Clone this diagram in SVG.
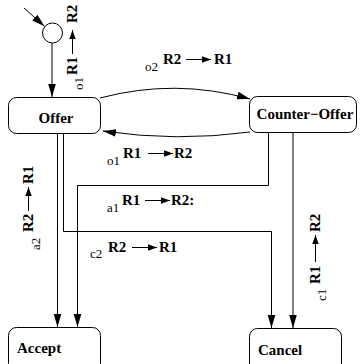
<svg xmlns="http://www.w3.org/2000/svg" width="360" height="364" viewBox="0 0 360 364">
<defs>
<style>
.box{fill:#fff;stroke:#000;stroke-width:1}
.lbl{font-family:'Liberation Serif','Times New Roman',Times,'DejaVu Serif',serif;font-weight:bold;font-size:15px;fill:#000}
.r{font-family:'Liberation Serif','Times New Roman',Times,'DejaVu Serif',serif;font-weight:bold;font-size:15px;fill:#000}
.s{font-family:'Liberation Serif','Times New Roman',Times,'DejaVu Serif',serif;font-size:13px;fill:#000}
.c{fill:none;stroke:#000;stroke-width:1}
.la{fill:none;stroke:#000;stroke-width:1;marker-end:url(#sm)}
</style>
<marker id="ah" markerUnits="userSpaceOnUse" markerWidth="14" markerHeight="10" viewBox="0 0 14 10" refX="13" refY="5" orient="auto">
<path d="M0,1.2 L13,5 L0,8.8 Z" fill="#000"/>
</marker>
<marker id="sm" markerUnits="userSpaceOnUse" markerWidth="10" markerHeight="8" viewBox="0 0 10 8" refX="9" refY="4" orient="auto">
<path d="M0,0.8 L9,4 L0,7.2 Z" fill="#000"/>
</marker>
</defs>

<g id="connectors">
<line class="c" x1="24" y1="8" x2="44.5" y2="26.3" marker-end="url(#ah)"/>
<line class="c" x1="52" y1="43" x2="52" y2="97" marker-end="url(#ah)"/>
<path class="c" d="M100,98 Q175,78 250,99" marker-end="url(#ah)"/>
<path class="c" d="M250,132 Q176,142 103,131" marker-end="url(#ah)"/>
<line class="c" x1="57.5" y1="133" x2="57.5" y2="327" marker-end="url(#ah)"/>
<polyline class="c" points="63.5,133 63.5,231.5 271.5,231.5 271.5,328" marker-end="url(#ah)"/>
<polyline class="c" points="268.5,133 268.5,185.5 77.5,185.5 77.5,327" marker-end="url(#ah)"/>
<line class="c" x1="293" y1="133" x2="293" y2="328" marker-end="url(#ah)"/>
</g>

<g id="init"><circle cx="52.5" cy="33" r="10" fill="#fff" stroke="#000" stroke-width="1"/></g>
<g id="offer"><rect class="box" x="8.5" y="97.5" width="92" height="36" rx="8"/><text class="lbl" x="56" y="123" text-anchor="middle">Offer</text></g>
<g id="counter-offer"><rect class="box" x="249.5" y="96.5" width="107" height="36" rx="8"/><text class="lbl" x="305" y="119" text-anchor="middle">Counter−Offer</text></g>
<g id="accept"><rect class="box" x="8.5" y="327.5" width="92" height="44" rx="8"/><text class="lbl" x="17" y="353">Accept</text></g>
<g id="cancel"><rect class="box" x="249.5" y="328.5" width="92" height="44" rx="8"/><text class="lbl" x="258" y="355">Cancel</text></g>

<g id="labels">
<text class="s" x="145" y="71">o2</text>
<text class="r" x="163" y="64">R2</text>
<line class="la" x1="186" y1="59.5" x2="211" y2="59.5"/>
<text class="r" x="214" y="64">R1</text>
<text class="s" x="107" y="165">o1</text>
<text class="r" x="123" y="158">R1</text>
<line class="la" x1="148" y1="153.5" x2="173" y2="153.5"/>
<text class="r" x="174" y="158">R2</text>
<text class="s" x="107" y="212">a1</text>
<text class="r" x="122" y="205">R1</text>
<line class="la" x1="145" y1="200.5" x2="170" y2="200.5"/>
<text class="r" x="171" y="205">R2:</text>
<text class="s" x="90" y="258">c2</text>
<text class="r" x="108" y="252">R2</text>
<line class="la" x1="132" y1="247.5" x2="157" y2="247.5"/>
<text class="r" x="159" y="252">R1</text>
<g transform="translate(77,0) rotate(-90)">
<text class="s" x="-90" y="6">o1</text>
<text class="r" x="-75" y="0">R1</text>
<line class="la" x1="-54" y1="-4.5" x2="-30" y2="-4.5"/>
<text class="r" x="-23" y="0">R2</text>
</g>
<g transform="translate(33,0) rotate(-90)">
<text class="s" x="-250" y="7">a2</text>
<text class="r" x="-232" y="0">R2</text>
<line class="la" x1="-211" y1="-4.5" x2="-187" y2="-4.5"/>
<text class="r" x="-184" y="0">R1</text>
</g>
<g transform="translate(320,0) rotate(-90)">
<text class="s" x="-301" y="6">c1</text>
<text class="r" x="-284" y="0">R1</text>
<line class="la" x1="-262" y1="-4.5" x2="-235" y2="-4.5"/>
<text class="r" x="-232" y="0">R2</text>
</g>
</g>
</svg>
